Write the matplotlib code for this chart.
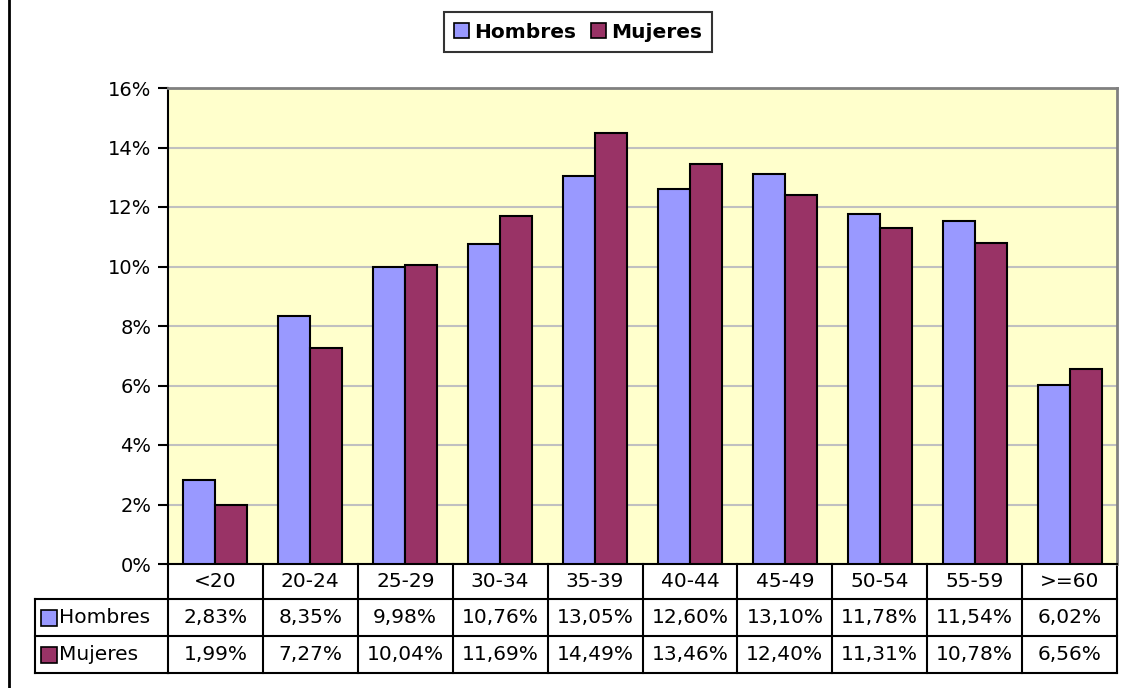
import matplotlib
matplotlib.use("Agg")
import matplotlib.pyplot as plt
from matplotlib.patches import Patch
from matplotlib.lines import Line2D
from matplotlib.transforms import blended_transform_factory
import numpy as np

categories = ["<20", "20-24", "25-29", "30-34", "35-39", "40-44", "45-49", "50-54", "55-59", ">=60"]
hombres = [2.83, 8.35, 9.98, 10.76, 13.05, 12.60, 13.10, 11.78, 11.54, 6.02]
mujeres = [1.99, 7.27, 10.04, 11.69, 14.49, 13.46, 12.40, 11.31, 10.78, 6.56]
series_names = ["Hombres", "Mujeres"]
series_colors = ["#9999FF", "#993366"]
yticks = [0, 2, 4, 6, 8, 10, 12, 14, 16]

W, H = 1126, 688
fig = plt.figure(figsize=(W / 100, H / 100), dpi=100)
fig.patch.set_facecolor("white")

L, R, T, B = 168, 1117, 88, 564
ax = fig.add_axes([L / W, 1 - B / H, (R - L) / W, (B - T) / H])
ax.set_facecolor("#FFFFCC")

x = np.arange(len(categories))
bw = 0.337
ax.bar(x - bw / 2, hombres, bw, color=series_colors[0], edgecolor="black", linewidth=1.5, zorder=3)
ax.bar(x + bw / 2, mujeres, bw, color=series_colors[1], edgecolor="black", linewidth=1.5, zorder=3)

ax.set_xlim(-0.5, len(categories) - 0.5)
ax.set_ylim(0, 16)
ax.set_yticks(yticks)
ax.set_yticklabels([f"{v}%" for v in yticks], fontsize=14)
ax.tick_params(axis="y", direction="out", length=7, width=1.5, color="black", pad=5)
ax.set_xticks([])
ax.yaxis.grid(True, color="#C0C0C0", linewidth=1.5, zorder=0)
ax.set_axisbelow(True)
for s in ["top", "right"]:
    ax.spines[s].set_color("#808080")
    ax.spines[s].set_linewidth(2)
for s in ["left", "bottom"]:
    ax.spines[s].set_color("black")
    ax.spines[s].set_linewidth(1.5)

# data table
tr = blended_transform_factory(ax.transData, ax.transAxes)
hpx = B - T
r0 = 0.0
r1 = -(599 - B) / hpx
r2 = -(636 - B) / hpx
r3 = -(673 - B) / hpx
lab_left = (35 - L) / (R - L)
lw = 1.5
kw = dict(color="black", linewidth=lw, clip_on=False)
for r in (r1, r2, r3):
    ax.plot([-0.5, len(categories) - 0.5], [r, r], transform=tr, **kw)
    ax.plot([lab_left, 0], [r, r], transform=ax.transAxes, **kw)
ax.plot([lab_left, lab_left], [r1, r3], transform=ax.transAxes, **kw)
for i in range(len(categories) + 1):
    ax.plot([i - 0.5, i - 0.5], [r0, r3], transform=tr, **kw)

fs = 14.5
for i, c in enumerate(categories):
    ax.text(i, (r0 + r1) / 2, c, transform=tr, ha="center", va="center", fontsize=fs)
    ax.text(i, (r1 + r2) / 2, f"{hombres[i]:.2f}%".replace(".", ","), transform=tr,
            ha="center", va="center", fontsize=fs)
    ax.text(i, (r2 + r3) / 2, f"{mujeres[i]:.2f}%".replace(".", ","), transform=tr,
            ha="center", va="center", fontsize=fs)

# row labels with colour keys
key_w = 16 / (R - L)
key_h = 16 / hpx
for name, col, (ya, yb) in zip(series_names, series_colors, [(r1, r2), (r2, r3)]):
    yc = (ya + yb) / 2
    kx = (41 - L) / (R - L)
    ax.add_patch(plt.Rectangle((kx, yc - key_h / 2), key_w, key_h, transform=ax.transAxes,
                               facecolor=col, edgecolor="black", linewidth=1.2, clip_on=False))
    ax.text((59 - L) / (R - L), yc, name, transform=ax.transAxes, ha="left", va="center", fontsize=fs)

# legend
handles = [Patch(facecolor=c, edgecolor="black", linewidth=1.2) for c in series_colors]
leg = fig.legend(handles, series_names, loc="center", bbox_to_anchor=(578 / W, 1 - 32 / H),
                 ncol=2, frameon=True, fancybox=False, edgecolor="black",
                 prop={"weight": "bold", "size": 14.5}, handlelength=0.75, handleheight=0.75,
                 handletextpad=0.25, columnspacing=0.7, borderpad=0.5, borderaxespad=0)
leg.get_frame().set_linewidth(1.5)

# left frame line of chart area
fig.add_artist(Line2D([8.5 / W, 8.5 / W], [0, 1], color="black", linewidth=2, transform=fig.transFigure))

fig.savefig("out.png", dpi=100)
